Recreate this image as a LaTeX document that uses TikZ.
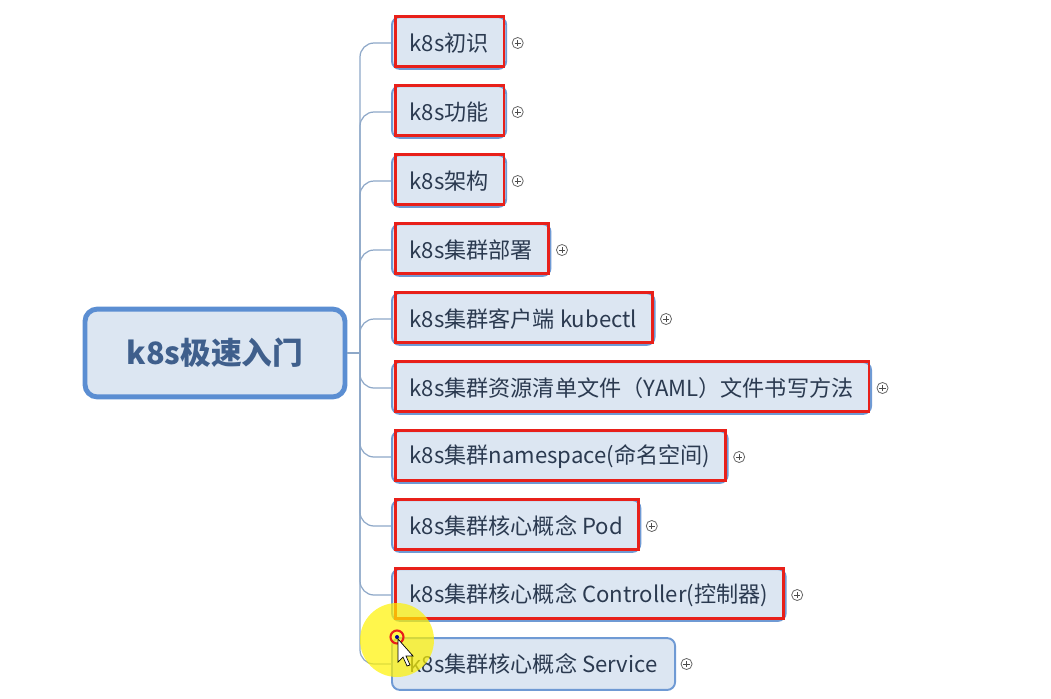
\documentclass[tikz,border=0pt]{standalone}
\usepackage{fontspec}
\setmainfont{Noto Sans CJK SC}
\usetikzlibrary{positioning}
\definecolor{boxblue}{HTML}{6F9AD4}
\definecolor{rootblue}{HTML}{5B8ED2}
\definecolor{boxfill}{HTML}{DCE6F2}
\definecolor{linkblue}{HTML}{8EA8C8}
\definecolor{marker}{HTML}{E8201A}
\definecolor{textdark}{HTML}{2B3A50}
\definecolor{roottext}{HTML}{3F5F8C}

\begin{document}
\begin{tikzpicture}[x=0.02cm, y=-0.02cm,
		topic/.style={draw=boxblue, line width=1.1pt, fill=boxfill, rounded corners=4.5pt, anchor=west,
			minimum height=29.5pt, inner xsep=10pt, text=textdark, font=\fontsize{12.6}{14}\selectfont},
		central/.style={draw=rootblue, line width=2.8pt, fill=boxfill, rounded corners=7pt,
			minimum width=148pt, minimum height=50pt, text=roottext, font=\fontsize{17.5}{20}\selectfont\bfseries},
		marked/.style={draw=marker, line width=1.4pt},
		link/.style={draw=linkblue, line width=0.7pt},
		expander/.style={circle, draw=gray!80!black, line width=0.45pt, minimum size=6.3pt, inner sep=0pt, fill=white,
			path picture={\draw[gray!60!black, line width=0.45pt]
				([xshift=-1.8pt]path picture bounding box.center) -- ([xshift=1.8pt]path picture bounding box.center)
				([yshift=-1.8pt]path picture bounding box.center) -- ([yshift=1.8pt]path picture bounding box.center);}}]
	\useasboundingbox (0, 0) rectangle (1051, 698);

	% central topic and its subtopics
	\node[central] (root) at (215, 353) {k8s极速入门};
	\node[topic] (t1) at (391, 43) {k8s初识};
	\node[topic] (t2) at (391, 112) {k8s功能};
	\node[topic] (t3) at (391, 181) {k8s架构};
	\node[topic] (t4) at (391, 250) {k8s集群部署};
	\node[topic] (t5) at (391, 319) {k8s集群客户端 kubectl};
	\node[topic] (t6) at (391, 388) {k8s集群资源清单文件（YAML）文件书写方法};
	\node[topic] (t7) at (391, 457) {k8s集群namespace(命名空间)};
	\node[topic] (t8) at (391, 526) {k8s集群核心概念 Pod};
	\node[topic] (t9) at (391, 595) {k8s集群核心概念 Controller(控制器)};
	\node[topic] (t10) at (391, 664) {k8s集群核心概念 Service};

	% branches
	\coordinate (trunk) at (360, 353);
	\draw[link] (root.east) -- (trunk);
	\foreach \t in {t1, t2, t3, t4, t5, t6, t7, t8, t9, t10} {
		\draw[link, rounded corners=8pt] (trunk) |- (\t.west);
		\node[expander, right=2.6pt of \t] {};
	}

	% red highlight frames
	\foreach \t in {t1, t2, t3, t4, t5, t6, t7, t8, t9}
		\draw[marked] ([xshift=2.5pt, yshift=-0.3pt]\t.north west) rectangle ([xshift=-1.7pt, yshift=2pt]\t.south east);

	% cursor highlight
	\fill[yellow, opacity=0.7] (397, 640) circle[radius=0.74cm];
	\draw[marker, line width=1.2pt] (397, 637) circle[radius=0.13cm];
	\fill[blue!60!black] (397, 637) circle[radius=0.04cm];
	\draw[black, fill=white, line width=0.4pt] (398, 639) -- (398, 662) -- (403, 657) -- (407, 666) -- (410, 665) -- (406, 656) -- (413, 656) -- cycle;
\end{tikzpicture}
\end{document}
